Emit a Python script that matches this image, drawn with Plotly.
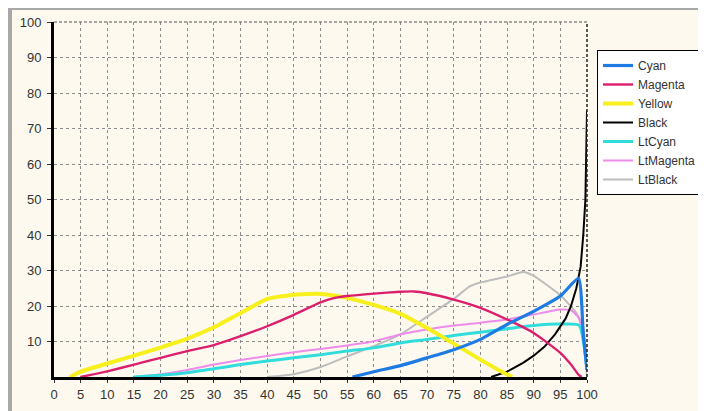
import plotly.graph_objects as go

# The page body has an 8px margin, so figure coordinates = screen coordinates - 8
OFF = 8
W, H = 706 - OFF, 411 - OFF
L, R, T, B = 54 - OFF, 587 - OFF, 22 - OFF, 377 - OFF  # plot area in figure pixels

series_names = ["Cyan", "Magenta", "Yellow", "Black", "LtCyan", "LtMagenta", "LtBlack"]

cyan_x = [56, 60, 65, 70, 75, 80, 85, 90, 95, 98.4, 99.3, 100]
cyan_y = [0, 1.5, 3.2, 5.4, 7.7, 10.6, 14.8, 18.5, 22.8, 27.8, 12, 2]

magenta_x = [5, 10, 15, 20, 25, 30, 35, 40, 45, 50, 52.5, 55, 60, 65, 67.5, 70, 75, 80, 85, 90, 95, 97, 98.5, 99]
magenta_y = [0, 1.6, 3.5, 5.4, 7.3, 9.0, 11.5, 14.3, 17.5, 21.0, 22.2, 22.8, 23.5, 24.0, 24.1, 23.6, 21.8, 19.5, 16.2, 12.4, 6.8, 3.5, 0.5, 0]

yellow_x = [3, 5, 10, 15, 20, 25, 30, 35, 40, 45, 50, 55, 60, 65, 70, 75, 80, 84, 86]
yellow_y = [0, 1.5, 3.8, 6.0, 8.3, 10.8, 14.0, 18.0, 22.0, 23.2, 23.4, 22.3, 20.3, 17.8, 13.8, 9.4, 4.9, 1.5, 0]

black_x = [82, 85, 88, 90, 92, 94, 96, 97, 98, 98.8, 99.3, 99.7, 100]
black_y = [0, 1.5, 4, 6, 8.5, 12, 16.5, 20, 25, 31, 40, 50, 75]

ltcyan_x = [15, 20, 25, 30, 35, 40, 45, 50, 55, 60, 65, 70, 75, 80, 85, 90, 95, 98.5, 100]
ltcyan_y = [0, 0.5, 1.2, 2.3, 3.5, 4.5, 5.4, 6.3, 7.3, 8.2, 9.6, 10.6, 11.7, 12.6, 13.6, 14.5, 14.9, 14.6, 2]

ltmagenta_x = [15, 20, 25, 30, 35, 40, 45, 50, 55, 60, 65, 70, 75, 80, 85, 90, 95, 97, 98.5, 100]
ltmagenta_y = [0, 0.8, 2.0, 3.5, 4.8, 5.9, 7.0, 7.9, 8.9, 10.1, 12.0, 13.4, 14.5, 15.3, 16.2, 17.6, 19.0, 18.8, 16.5, 3]

ltblack_x = [40, 45, 50, 55, 60, 65, 70, 75, 78, 80, 85, 88, 90, 95, 98, 99.3, 100]
ltblack_y = [0, 0.8, 2.8, 5.8, 8.7, 12.0, 17.0, 22.0, 25.5, 26.6, 28.3, 29.6, 28.5, 23.0, 18.0, 14.0, 0]

x_ticks = list(range(0, 101, 5))
y_ticks = list(range(10, 101, 10))

data = {
    "Cyan": (cyan_x, cyan_y),
    "Magenta": (magenta_x, magenta_y),
    "Yellow": (yellow_x, yellow_y),
    "Black": (black_x, black_y),
    "LtCyan": (ltcyan_x, ltcyan_y),
    "LtMagenta": (ltmagenta_x, ltmagenta_y),
    "LtBlack": (ltblack_x, ltblack_y),
}
styles = {
    "Cyan": ("#1E7BE3", 3.2),
    "Magenta": ("#DC1F6C", 2.4),
    "Yellow": ("#F7F01C", 4),
    "Black": ("#000000", 2),
    "LtCyan": ("#30DCDC", 3),
    "LtMagenta": ("#EE8CEC", 2),
    "LtBlack": ("#BDBDBD", 2),
}

fig = go.Figure()
for rank, name in reversed(list(enumerate(series_names))):
    xs, ys = data[name]
    col, w = styles[name]
    fig.add_trace(go.Scatter(
        x=xs, y=ys, name=name, mode="lines",
        line=dict(color=col, width=w, shape="linear" if name == "Black" else "spline", smoothing=0.5),
        legendrank=rank + 1,
    ))

pw, ph = R - L, B - T
def px(x):  # screen x -> paper
    return (x - OFF - L) / pw
def py(y):  # screen y -> paper
    return (B - (y - OFF)) / ph

cream = "#FDF9EE"
shapes = [
    dict(type="rect", xref="paper", yref="paper", x0=px(OFF), x1=px(706), y0=py(10), y1=py(OFF),
         fillcolor="#A8A8A8", line_width=0, layer="below"),
    dict(type="rect", xref="paper", yref="paper", x0=px(OFF), x1=px(12), y0=py(411), y1=py(OFF),
         fillcolor="#A8A8A8", line_width=0, layer="below"),
    dict(type="line", xref="paper", yref="paper", x0=1, x1=1, y0=0, y1=1,
         line=dict(color="#222222", width=1.5, dash="3px,2px"), layer="above"),
    dict(type="line", xref="paper", yref="paper", x0=0, x1=1, y0=1, y1=1,
         line=dict(color="#555555", width=1.2, dash="3px,2px"), layer="above"),
    # legend shadow
    dict(type="rect", xref="paper", yref="paper", x0=px(602), x1=px(704), y0=py(195), y1=py(54),
         fillcolor="#606060", line_width=0, layer="above"),
]

fig.update_layout(
    width=W, height=H,
    margin=dict(l=L, r=W - R, t=T, b=H - B, autoexpand=False),
    paper_bgcolor=cream, plot_bgcolor=cream,
    font=dict(family="Liberation Sans, Arial, sans-serif", size=13, color="#333333"),
    shapes=shapes,
    showlegend=True,
    legend=dict(
        x=px(597), y=py(50), xanchor="left", yanchor="top",
        bgcolor="white", bordercolor="#000000", borderwidth=1,
        font=dict(family="Liberation Sans, Arial, sans-serif", size=12, color="#333333"),
        itemwidth=30, tracegroupgap=0, traceorder="normal",
    ),
    xaxis=dict(
        range=[0, 100], tickvals=x_ticks, ticktext=[str(v) for v in x_ticks],
        showgrid=True, gridcolor="#8C8C8C", griddash="3px,3px", gridwidth=1,
        showline=True, linecolor="black", linewidth=3, mirror=False,
        ticks="outside", ticklen=3, tickcolor="#333333", zeroline=False,
    ),
    yaxis=dict(
        range=[0, 100], tickvals=y_ticks, ticktext=[str(v) for v in y_ticks],
        showgrid=True, gridcolor="#8C8C8C", griddash="3px,3px", gridwidth=1,
        showline=True, linecolor="black", linewidth=3, mirror=False,
        ticks="outside", ticklen=4, tickcolor="#333333", zeroline=False,
        ticklabelstandoff=3,
    ),
)

fig.write_html("out.html")
